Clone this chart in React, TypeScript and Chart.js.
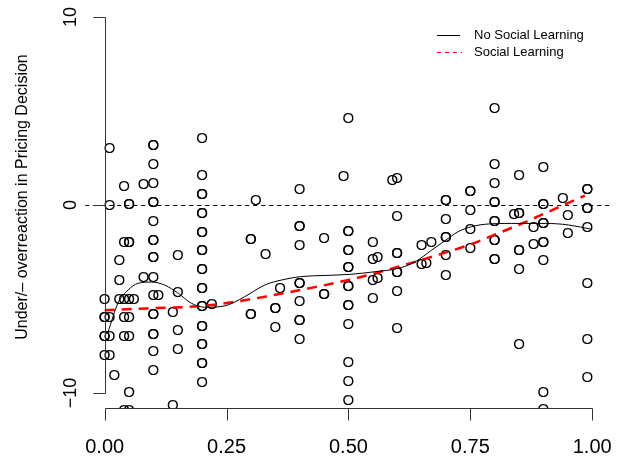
import React, { useEffect, useRef } from 'react';
import { Chart, registerables } from 'chart.js';

Chart.register(...registerables);

// ---- axis ticks / labels ----
const xTicks = [0, 0.25, 0.5, 0.75, 1];
const xTickLabels = ['0.00', '0.25', '0.50', '0.75', '1.00'];
const yTicks = [-10, 0, 10];
const yTickLabels = ['\u221210', '0', '10'];
const yTitle = 'Under/\u2013 overreaction in Pricing Decision';
const seriesNames = ['No Social Learning', 'Social Learning'];

// ---- scatter observations: x positions and the values observed at each ----
const pointXs = [
  0, 0.01, 0.02, 0.03, 0.04, 0.05, 0.06, 0.08, 0.1, 0.11, 0.14, 0.15, 0.2, 0.22,
  0.3, 0.31, 0.33, 0.35, 0.36, 0.4, 0.45, 0.49, 0.5, 0.55, 0.56, 0.59, 0.6,
  0.65, 0.66, 0.67, 0.7, 0.75, 0.8, 0.84, 0.85, 0.88, 0.9, 0.94, 0.95, 0.99,
];
const pointYs = [
  [-4.96, -5.94, -5.94, -6.95, -6.95, -7.94],
  [3.07, 0.0, -5.94, -6.95, -7.94],
  [-9.0],
  [-2.9, -3.95, -4.96],
  [1.01, -1.95, -4.96, -5.94, -6.95, -10.87],
  [0.05, 0.05, -1.95, -1.95, -4.96, -5.94, -6.95, -9.93, -10.87],
  [-4.96],
  [1.15, -3.81],
  [3.19, 3.19, 2.22, 1.19, 0.18, 0.18, -0.83, -1.86, -1.86, -2.75, -2.75, -3.81, -4.79, -5.8, -5.8, -6.83, -6.83, -7.77, -8.78],
  [-4.75],
  [-5.67, -10.6],
  [-2.62, -4.61, -6.61, -7.62],
  [3.58, 1.62, 0.61, 0.61, -0.4, -0.4, -1.42, -1.42, -2.39, -2.39, -3.37, -3.37, -4.38, -4.38, -5.37, -5.37, -6.42, -6.42, -7.39, -7.39, -8.39, -8.39, -9.4],
  [-5.27],
  [-1.77, -1.77, -5.76, -5.76],
  [0.3],
  [-2.57],
  [-5.44, -5.44, -6.47],
  [-4.38],
  [0.89, -1.12, -1.12, -2.09, -4.11, -4.11, -5.11, -6.12, -6.12, -7.09],
  [-1.74, -4.7, -4.7],
  [1.54],
  [4.66, -1.37, -1.37, -2.39, -2.39, -3.28, -3.28, -4.31, -4.31, -5.32, -5.32, -6.33, -8.33, -9.34, -10.34],
  [-1.95, -2.84, -3.95, -4.93],
  [-2.75, -3.85],
  [1.37],
  [1.47, -0.59, -2.53, -2.53, -3.55, -3.55, -4.56, -6.53],
  [-2.13, -3.1],
  [-3.07],
  [-1.95],
  [0.3, 0.3, -0.71, -1.68, -1.68, -2.62, -3.7],
  [0.74, 0.74, -0.23, -1.24, -2.25],
  [5.2, 2.18, 1.19, 0.18, 0.18, -0.83, -0.83, -1.82, -1.82, -2.84, -2.84],
  [-0.48],
  [1.6, -0.41, -0.41, -2.39, -2.39, -3.4, -7.39],
  [-1.15, -2.07],
  [2.04, 0.09, 0.09, -0.94, -0.94, -1.95, -1.95, -2.9, -9.93, -10.82],
  [0.41],
  [-0.53, -1.47],
  [0.89, 0.89, -0.12, -0.12, -1.15, -4.13, -7.13, -9.13],
];

// ---- smoothed curves ----
const noSocialX = [0.007, 0.027, 0.048, 0.068, 0.096, 0.123, 0.151, 0.178, 0.205, 0.246, 0.287, 0.329, 0.37, 0.402, 0.45, 0.503, 0.554, 0.602, 0.637, 0.671, 0.698, 0.725, 0.753, 0.787, 0.835, 0.904, 0.951, 1.0];
const noSocialY = [-6.75, -5.23, -4.52, -4.17, -4.1, -4.26, -4.7, -5.23, -5.44, -5.37, -4.88, -4.25, -3.95, -3.81, -3.75, -3.69, -3.55, -3.37, -3.02, -2.39, -1.9, -1.42, -1.15, -1.01, -0.98, -0.98, -1.06, -1.3];
const socialX = [0, 0.088, 0.2, 0.27, 0.347, 0.402, 0.5, 0.6, 0.7, 0.75, 0.8, 0.85, 0.9, 0.95, 0.985];
const socialY = [-5.6, -5.5, -5.37, -5.14, -4.79, -4.52, -3.99, -3.3, -2.52, -2.1, -1.58, -1.05, -0.48, 0.1, 0.5];

const FONT = '"Liberation Sans", Arial, Helvetica, sans-serif';

const rPlot = {
  id: 'rplot',
  beforeDatasetsDraw(chart: any) {
    const { ctx, chartArea: a, scales } = chart;
    const y = scales.y;
    ctx.save();
    ctx.beginPath();
    ctx.rect(a.left, a.top, a.right - a.left, a.bottom - a.top);
    ctx.clip();
    // zero reference line
    const y0 = Math.round(y.getPixelForValue(0)) + 0.5;
    ctx.strokeStyle = '#000';
    ctx.lineWidth = 1;
    ctx.setLineDash([4, 4]);
    ctx.beginPath();
    ctx.moveTo(a.left, y0);
    ctx.lineTo(a.right, y0);
    ctx.stroke();
    ctx.setLineDash([]);
    // points drawn as "O" glyphs
    const meta = chart.getDatasetMeta(0);
    ctx.font = '15px ' + FONT;
    ctx.textAlign = 'center';
    ctx.textBaseline = 'alphabetic';
    ctx.fillStyle = '#000';
    meta.data.forEach((el: any) => {
      ctx.fillText('O', el.x, el.y + 5.4);
    });
    ctx.restore();
  },
  afterDraw(chart: any) {
    const { ctx, chartArea: a, scales } = chart;
    const x = scales.x;
    const y = scales.y;
    ctx.save();
    ctx.strokeStyle = '#333';
    ctx.lineWidth = 1;
    // y axis
    const ax = Math.round(x.getPixelForValue(0)) + 0.5;
    const yTop = y.getPixelForValue(yTicks[yTicks.length - 1]);
    const yBot = y.getPixelForValue(yTicks[0]);
    ctx.beginPath();
    ctx.moveTo(ax, Math.round(yTop) + 0.5);
    ctx.lineTo(ax, Math.round(yBot) + 0.5);
    yTicks.forEach((t) => {
      const py = Math.round(y.getPixelForValue(t)) + 0.5;
      ctx.moveTo(ax, py);
      ctx.lineTo(ax - 12, py);
    });
    ctx.stroke();
    // x axis
    const by = Math.round(a.bottom) + 0.5;
    const xl = Math.round(x.getPixelForValue(xTicks[0])) + 0.5;
    const xr = Math.round(x.getPixelForValue(xTicks[xTicks.length - 1])) + 0.5;
    ctx.beginPath();
    ctx.moveTo(xl, by);
    ctx.lineTo(xr, by);
    xTicks.forEach((t) => {
      const px = Math.round(x.getPixelForValue(t)) + 0.5;
      ctx.moveTo(px, by);
      ctx.lineTo(px, by + 12);
    });
    ctx.stroke();

    ctx.fillStyle = '#000';
    // x tick labels
    ctx.font = '20px ' + FONT;
    ctx.textAlign = 'center';
    ctx.textBaseline = 'alphabetic';
    xTicks.forEach((t, i) => {
      ctx.fillText(xTickLabels[i], x.getPixelForValue(t), 453);
    });
    // y tick labels (rotated)
    ctx.font = '18px ' + FONT;
    yTicks.forEach((t, i) => {
      ctx.save();
      ctx.translate(76, y.getPixelForValue(t));
      ctx.rotate(-Math.PI / 2);
      ctx.fillText(yTickLabels[i], 0, 0);
      ctx.restore();
    });
    // y title
    ctx.font = '16px ' + FONT;
    ctx.save();
    ctx.translate(27, 197);
    ctx.rotate(-Math.PI / 2);
    ctx.fillText(yTitle, 0, 0);
    ctx.restore();

    // legend
    ctx.font = '13px ' + FONT;
    ctx.textAlign = 'left';
    ctx.textBaseline = 'middle';
    const lx0 = 437;
    const lx1 = 460;
    const rows = [35, 52];
    ctx.strokeStyle = '#000';
    ctx.lineWidth = 1;
    ctx.beginPath();
    ctx.moveTo(lx0, rows[0] + 0.5);
    ctx.lineTo(lx1, rows[0] + 0.5);
    ctx.stroke();
    ctx.strokeStyle = '#ff0000';
    ctx.setLineDash([4, 4]);
    ctx.beginPath();
    ctx.moveTo(lx0, rows[1] + 0.5);
    ctx.lineTo(lx1 + 2, rows[1] + 0.5);
    ctx.stroke();
    ctx.setLineDash([]);
    ctx.fillStyle = '#000';
    ctx.fillText(seriesNames[0], 474, rows[0]);
    ctx.fillText(seriesNames[1], 474, rows[1]);
    ctx.restore();
  },
};

export default function App() {
  const ref = useRef<HTMLCanvasElement | null>(null);
  useEffect(() => {
    if (!ref.current) return;
    const points: { x: number; y: number }[] = [];
    pointXs.forEach((px, i) => pointYs[i].forEach((v) => points.push({ x: px, y: v })));
    const noSocial = noSocialX.map((v, i) => ({ x: v, y: noSocialY[i] }));
    const social = socialX.map((v, i) => ({ x: v, y: socialY[i] }));
    const chart = new Chart(ref.current, {
      type: 'scatter',
      data: {
        datasets: [
          { label: 'obs', data: points, pointRadius: 0, pointHoverRadius: 0, showLine: false } as any,
          {
            type: 'line', label: seriesNames[0], data: noSocial, borderColor: '#000', borderWidth: 1,
            pointRadius: 0, cubicInterpolationMode: 'monotone', fill: false,
          } as any,
          {
            type: 'line', label: seriesNames[1], data: social, borderColor: '#ff0000', borderWidth: 2.5,
            borderDash: [10, 7], pointRadius: 0, cubicInterpolationMode: 'monotone', fill: false,
          } as any,
        ],
      },
      options: {
        animation: false,
        responsive: false,
        events: [],
        layout: { padding: { left: 85.2, right: 14.3, top: 2, bottom: 51 }, autoPadding: false } as any,
        plugins: { legend: { display: false }, tooltip: { enabled: false } },
        scales: {
          x: { type: 'linear', min: -0.04, max: 1.04, display: false },
          y: { type: 'linear', min: -10.8, max: 10.8, display: false },
        },
      },
      plugins: [rPlot],
    });
    return () => chart.destroy();
  }, []);
  return (
    <div style={{ position: 'fixed', left: 0, top: 0, width: 626, height: 459, background: '#fff' }}>
      <canvas ref={ref} width={626} height={459} style={{ display: 'block' }} />
    </div>
  );
}
